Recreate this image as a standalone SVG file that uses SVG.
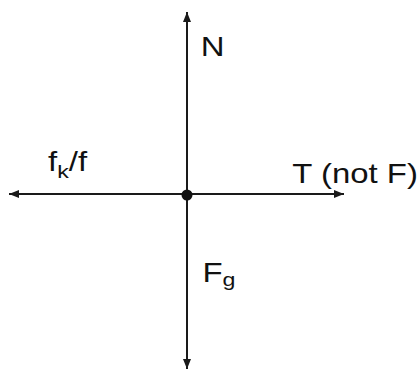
<svg xmlns="http://www.w3.org/2000/svg" width="417" height="370" viewBox="0 0 417 370">
<style>
.ln{stroke:#1a1a1a;stroke-width:2;fill:none}
.lbl{font-family:"Liberation Sans",Arial,sans-serif;font-size:27px;fill:#111}
.sub{font-size:19px}
</style>
<defs>
<marker id="ah" viewBox="0 0 10 8" refX="10" refY="4" markerWidth="10" markerHeight="8" markerUnits="userSpaceOnUse" orient="auto">
<path d="M0,0 L10,4 L0,8 Z" fill="#1a1a1a"/>
</marker>
</defs>
<rect width="417" height="370" fill="#fff"/>
<g id="connectors">
<line class="ln" x1="187" y1="195" x2="187" y2="12" marker-end="url(#ah)"/>
<line class="ln" x1="187" y1="195" x2="187" y2="369" marker-end="url(#ah)"/>
<line class="ln" x1="187" y1="194" x2="9" y2="194" marker-end="url(#ah)"/>
<line class="ln" x1="187" y1="194" x2="344" y2="194" marker-end="url(#ah)"/>
</g>
<g id="center"><circle cx="187" cy="195" r="5.5" fill="#111"/></g>
<g id="N"><text class="lbl" transform="translate(200.8,56) scale(1.22,1)">N</text></g>
<g id="T"><text class="lbl" transform="translate(292.3,183.3) scale(1.22,1)">T (not F)</text></g>
<g id="f"><text class="lbl" transform="translate(48,171) scale(1.22,1)">f<tspan class="sub" dy="7">k</tspan><tspan dy="-7">/f</tspan></text></g>
<g id="Fg"><text class="lbl" transform="translate(202.4,281.7) scale(1.22,1)">F<tspan class="sub" dy="4">g</tspan></text></g>
</svg>
